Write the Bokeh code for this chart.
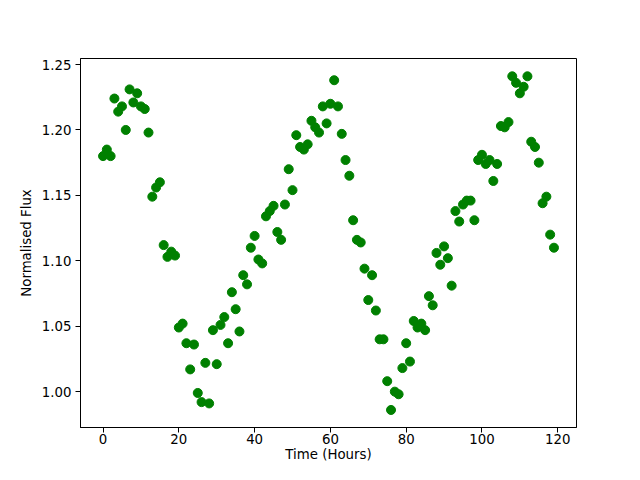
from bokeh.plotting import figure
from bokeh.models import FixedTicker, PrintfTickFormatter, Range1d
from bokeh.embed import file_html
from bokeh.resources import INLINE

hours = list(range(120))
flux = [1.180, 1.185, 1.180, 1.224, 1.214, 1.218, 1.200, 1.231, 1.221, 1.228,
        1.218, 1.216, 1.198, 1.149, 1.156, 1.160, 1.112, 1.103, 1.107, 1.104,
        1.049, 1.052, 1.037, 1.017, 1.036, 0.999, 0.992, 1.022, 0.991, 1.047,
        1.021, 1.051, 1.057, 1.037, 1.076, 1.063, 1.046, 1.089, 1.082, 1.110,
        1.119, 1.101, 1.098, 1.134, 1.138, 1.142, 1.122, 1.116, 1.143, 1.170,
        1.154, 1.196, 1.187, 1.185, 1.189, 1.207, 1.202, 1.198, 1.218, 1.205,
        1.220, 1.238, 1.218, 1.197, 1.177, 1.165, 1.131, 1.116, 1.114, 1.094,
        1.070, 1.089, 1.062, 1.040, 1.040, 1.008, 0.986, 1.000, 0.998, 1.018,
        1.037, 1.023, 1.054, 1.049, 1.052, 1.047, 1.073, 1.066, 1.106, 1.097,
        1.111, 1.102, 1.081, 1.138, 1.130, 1.143, 1.146, 1.146, 1.131, 1.177,
        1.181, 1.174, 1.177, 1.161, 1.174, 1.203, 1.202, 1.206, 1.241, 1.236,
        1.228, 1.233, 1.241, 1.191, 1.187, 1.175, 1.144, 1.149, 1.120, 1.110]

x_ticks = [0, 20, 40, 60, 80, 100, 120]
y_ticks = [1.00, 1.05, 1.10, 1.15, 1.20, 1.25]

p = figure(width=624, height=464, output_backend="svg", toolbar_location=None,
           x_range=Range1d(-5.95, 124.95), y_range=Range1d(0.9726, 1.2546),
           min_border_left=80, min_border_right=48, min_border_top=58, min_border_bottom=37)

p.scatter(hours, flux, size=9, color="#008000")

p.xgrid.visible = False
p.ygrid.visible = False
p.outline_line_color = "black"
p.outline_line_width = 1

p.xaxis.ticker = FixedTicker(ticks=x_ticks)
p.yaxis.ticker = FixedTicker(ticks=y_ticks)
p.yaxis.formatter = PrintfTickFormatter(format="%.2f")

for ax in (p.xaxis, p.yaxis):
    ax.axis_line_color = "black"
    ax.major_tick_line_color = "black"
    ax.major_tick_out = 5
    ax.major_tick_in = 0
    ax.minor_tick_line_color = None
    ax.major_label_text_font = "DejaVu Sans"
    ax.major_label_text_font_size = "10pt"
    ax.major_label_text_color = "black"
    ax.axis_label_text_font = "DejaVu Sans"
    ax.axis_label_text_font_size = "10pt"
    ax.axis_label_text_font_style = "normal"
    ax.axis_label_text_color = "black"

p.xaxis.major_label_standoff = 1
p.xaxis.axis_label_standoff = 0
p.yaxis.major_label_standoff = 4
p.yaxis.axis_label_standoff = 5

p.xaxis.axis_label = "Time (Hours)"
p.yaxis.axis_label = "Normalised Flux"

open("out.html", "w").write(file_html(p, INLINE))
